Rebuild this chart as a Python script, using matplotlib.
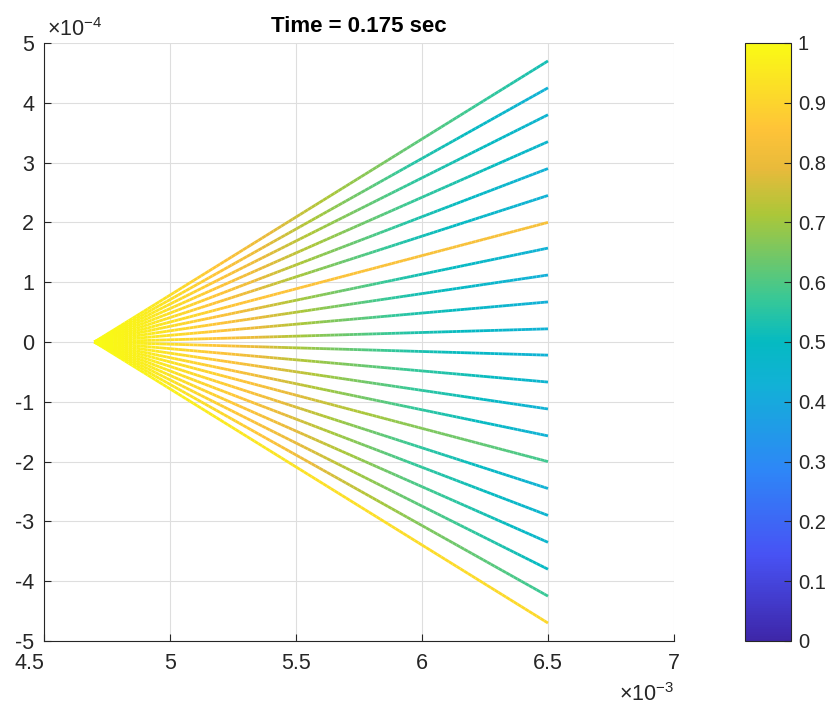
import numpy as np
import matplotlib
matplotlib.use("Agg")
import matplotlib.pyplot as plt
import matplotlib.transforms as mtransforms
from matplotlib.collections import LineCollection
from matplotlib.colors import LinearSegmentedColormap, Normalize
from matplotlib.cm import ScalarMappable

plt.rcParams['font.family'] = ['Liberation Sans', 'DejaVu Sans']
plt.rcParams['mathtext.fontset'] = 'custom'
plt.rcParams['mathtext.rm'] = 'Liberation Sans'
plt.rcParams['mathtext.it'] = 'Liberation Sans:italic'

# parula aproximado
parula_pos = [0.0, 1/7, 2/7, 3/7, 0.5, 4/7, 5/7, 0.79, 6/7, 1.0]
parula_rgb = [
    (0.2422, 0.1504, 0.6603),
    (0.2810, 0.3228, 0.9579),
    (0.1786, 0.5289, 0.9682),
    (0.0689, 0.6948, 0.8394),
    (0.0200, 0.7300, 0.7600),
    (0.2161, 0.7843, 0.5923),
    (0.6720, 0.7793, 0.2227),
    (0.9100, 0.7300, 0.2300),
    (0.9970, 0.7659, 0.2199),
    (0.9769, 0.9839, 0.0805),
]
parula = LinearSegmentedColormap.from_list('parula', list(zip(parula_pos, parula_rgb)), N=256)

# datos: origen comun y extremos de cada rayo
x_start = 4.7e-3
y_start = 0.0
x_end = 6.5e-3
y_end = np.array([4.7, 4.25, 3.8, 3.35, 2.9, 2.45, 2.0, 1.57, 1.12, 0.67, 0.22,
                  -0.22, -0.67, -1.12, -1.57, -2.0, -2.45, -2.9, -3.35, -3.8,
                  -4.25, -4.7]) * 1e-4

# valor de color a lo largo de cada rayo (fraccion del recorrido)
t_stations = [0.0, 0.1, 0.3, 0.5, 0.7, 1.0]
c_values = [
    [1.0, 0.97, 0.84, 0.72, 0.62, 0.52],
    [1.0, 0.97, 0.84, 0.70, 0.55, 0.43],
    [1.0, 0.97, 0.84, 0.70, 0.56, 0.45],
    [1.0, 0.97, 0.84, 0.70, 0.57, 0.46],
    [1.0, 0.97, 0.84, 0.68, 0.54, 0.43],
    [1.0, 0.97, 0.83, 0.67, 0.53, 0.43],
    [1.0, 0.97, 0.86, 0.85, 0.84, 0.83],
    [1.0, 0.97, 0.83, 0.67, 0.53, 0.43],
    [1.0, 0.97, 0.84, 0.68, 0.53, 0.42],
    [1.0, 0.97, 0.84, 0.68, 0.54, 0.42],
    [1.0, 0.97, 0.84, 0.67, 0.54, 0.43],
    [1.0, 0.97, 0.84, 0.67, 0.54, 0.43],
    [1.0, 0.97, 0.84, 0.69, 0.57, 0.45],
    [1.0, 0.97, 0.85, 0.71, 0.57, 0.43],
    [1.0, 0.97, 0.85, 0.71, 0.57, 0.43],
    [1.0, 0.97, 0.87, 0.75, 0.67, 0.58],
    [1.0, 0.97, 0.87, 0.73, 0.57, 0.43],
    [1.0, 0.97, 0.87, 0.73, 0.57, 0.45],
    [1.0, 0.97, 0.87, 0.75, 0.60, 0.46],
    [1.0, 0.97, 0.87, 0.76, 0.62, 0.49],
    [1.0, 0.97, 0.90, 0.78, 0.67, 0.57],
    [1.0, 0.98, 0.95, 0.93, 0.92, 0.91],
]

x_ticks = [4.5, 5, 5.5, 6, 6.5, 7]
x_ticklabels = ['4.5', '5', '5.5', '6', '6.5', '7']
y_ticks = [-5, -4, -3, -2, -1, 0, 1, 2, 3, 4, 5]
cb_ticks = [0, 0.1, 0.2, 0.3, 0.4, 0.5, 0.6, 0.7, 0.8, 0.9, 1]
cb_ticklabels = ['0', '0.1', '0.2', '0.3', '0.4', '0.5', '0.6', '0.7', '0.8', '0.9', '1']

fig = plt.figure(figsize=(8.36, 7.19), dpi=100)
ax = fig.add_axes([0.0526, 0.1085, 0.7536, 0.8317])

norm = Normalize(0, 1)
tt = np.linspace(0, 1, 120)
for ye, cv in zip(y_end, c_values):
    xs = x_start + tt * (x_end - x_start)
    ys = y_start + tt * (ye - y_start)
    pts = np.column_stack([xs, ys]).reshape(-1, 1, 2)
    segs = np.concatenate([pts[:-1], pts[1:]], axis=1)
    cseg = np.interp(0.5 * (tt[:-1] + tt[1:]), t_stations, cv)
    lc = LineCollection(segs, cmap=parula, norm=norm, linewidths=2.0,
                        capstyle='butt')
    lc.set_array(cseg)
    ax.add_collection(lc)

ax.set_xlim(4.5e-3, 7e-3)
ax.set_ylim(-5e-4, 5e-4)
ax.set_xticks(np.array(x_ticks) * 1e-3)
ax.set_xticklabels(x_ticklabels)
ax.set_yticks(np.array(y_ticks) * 1e-4)
ax.set_yticklabels([str(v) for v in y_ticks])

dark = '#262626'
ax.grid(True, color='#dedede', linewidth=0.8)
ax.set_axisbelow(True)
for s in ['top', 'right']:
    ax.spines[s].set_visible(False)
for s in ['left', 'bottom']:
    ax.spines[s].set_color(dark)
    ax.spines[s].set_linewidth(0.8)
ax.tick_params(direction='in', length=5, width=0.8, colors=dark,
               labelsize=15.5)
ax.tick_params(axis='y', pad=7)
ax.tick_params(axis='x', pad=9)

# primera etiqueta del eje x desplazada a la izquierda (como en la figura)
first = ax.get_xticklabels()[0]
first.set_transform(first.get_transform() +
                    mtransforms.ScaledTranslation(-0.15, 0, fig.dpi_scale_trans))

ax.text(0.005, 1.003, r'$\times10^{-4}$', transform=ax.transAxes,
        ha='left', va='bottom', fontsize=15.5, color=dark)
ax.text(1.0, -0.07, r'$\times10^{-3}$', transform=ax.transAxes,
        ha='right', va='top', fontsize=15.5, color=dark)
ax.set_title('Time = 0.175 sec', fontsize=16, fontweight='bold', pad=8)

cax = fig.add_axes([0.891, 0.1085, 0.055, 0.8317])
sm = ScalarMappable(norm=norm, cmap=parula)
cb = fig.colorbar(sm, cax=cax)
cb.set_ticks(cb_ticks)
cb.set_ticklabels(cb_ticklabels)
cb.outline.set_edgecolor(dark)
cb.outline.set_linewidth(0.8)
cax.tick_params(direction='in', length=5, width=0.8, colors=dark,
                labelsize=14.5, pad=5)

fig.savefig('out.png', dpi=100)
